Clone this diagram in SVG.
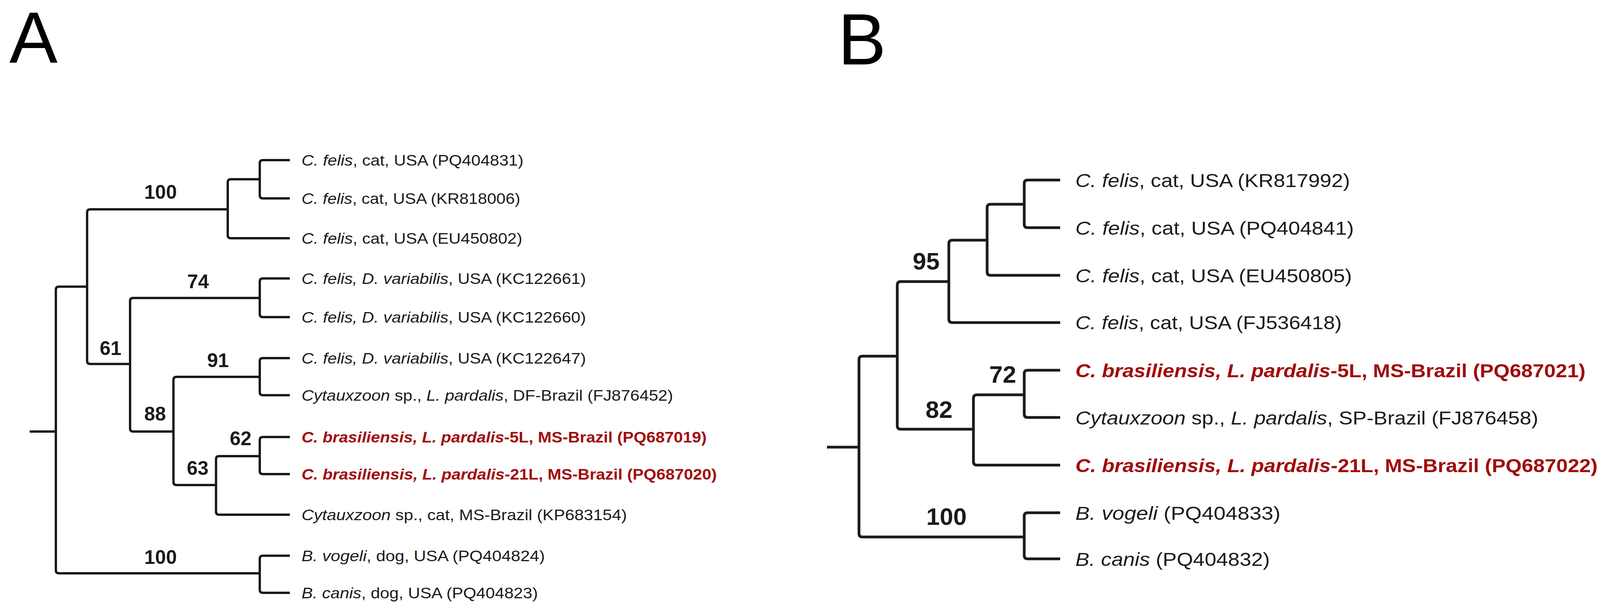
<svg xmlns="http://www.w3.org/2000/svg" width="4112" height="1562" viewBox="0 0 4112 1562">
<style>
.br{fill:none;stroke:#1a1a1a;stroke-width:6;stroke-linecap:butt;stroke-linejoin:round}
.brb{fill:none;stroke:#1a1a1a;stroke-width:7;stroke-linecap:butt;stroke-linejoin:round}
.bs{font-family:"Liberation Sans",Arial,sans-serif;fill:#1a1a1a;font-weight:bold}
.la{font-family:"Liberation Sans",Arial,sans-serif;font-size:38px;fill:#1a1a1a}
.lb{font-family:"Liberation Sans",Arial,sans-serif;font-size:48px;fill:#1a1a1a}
.red{fill:#a00d0d;font-weight:bold}
.i{font-style:italic}
.pl{font-family:"Liberation Sans",Arial,sans-serif;font-size:185px;fill:#000}
</style>
<rect width="4112" height="1562" fill="#fff"/>
<text class="pl" x="24" y="160">A</text>
<text class="pl" x="2145" y="165">B</text>
<g id="connectors">
<path class="br" d="M76,1105H143"/>
<path class="br" d="M223,734H151Q143,734 143,742V1460Q143,1468 151,1468H665"/>
<path class="br" d="M583,536H231Q223,536 223,544V924Q223,932 231,932H333"/>
<path class="br" d="M665,459H591Q583,459 583,467V602Q583,610 591,610H742"/>
<path class="br" d="M742,410H673Q665,410 665,418V500Q665,508 673,508H742"/>
<path class="br" d="M665,763H341Q333,763 333,771V1097Q333,1105 341,1105H444"/>
<path class="br" d="M742,713H673Q665,713 665,721V804Q665,812 673,812H742"/>
<path class="br" d="M665,965H452Q444,965 444,973V1234Q444,1242 452,1242H553"/>
<path class="br" d="M742,917H673Q665,917 665,925V1004Q665,1012 673,1012H742"/>
<path class="br" d="M665,1168H561Q553,1168 553,1176V1310Q553,1318 561,1318H742"/>
<path class="br" d="M742,1119H673Q665,1119 665,1127V1206Q665,1214 673,1214H742"/>
<path class="br" d="M742,1423H673Q665,1423 665,1431V1510Q665,1518 673,1518H742"/>
<path class="brb" d="M2117,1145H2199"/>
<path class="brb" d="M2297,912H2208Q2199,912 2199,921V1366Q2199,1375 2208,1375H2622"/>
<path class="brb" d="M2429,721H2306Q2297,721 2297,730V1090Q2297,1099 2306,1099H2492"/>
<path class="brb" d="M2527,615H2438Q2429,615 2429,624V817Q2429,826 2438,826H2714"/>
<path class="brb" d="M2622,523H2536Q2527,523 2527,532V696Q2527,705 2536,705H2714"/>
<path class="brb" d="M2714,461H2631Q2622,461 2622,470V574Q2622,583 2631,583H2714"/>
<path class="brb" d="M2622,1011H2501Q2492,1011 2492,1020V1182Q2492,1191 2501,1191H2714"/>
<path class="brb" d="M2714,948H2631Q2622,948 2622,957V1060Q2622,1069 2631,1069H2714"/>
<path class="brb" d="M2714,1313H2631Q2622,1313 2622,1322V1422Q2622,1431 2631,1431H2714"/>
</g>
<g id="support">
<g class="bs" font-size="50" text-anchor="middle">
<text x="411" y="509">100</text>
<text x="507" y="738">74</text>
<text x="283" y="909">61</text>
<text x="558" y="940">91</text>
<text x="397" y="1077">88</text>
<text x="616" y="1140">62</text>
<text x="506" y="1216">63</text>
<text x="411" y="1444">100</text>
</g>
<g class="bs" font-size="62" text-anchor="middle">
<text x="2371" y="690">95</text>
<text x="2567" y="980">72</text>
<text x="2404" y="1070">82</text>
<text x="2423" y="1344">100</text>
</g>
</g>
<g id="taxa-A">
<text id="a1" class="la" x="772" y="424" textLength="568" lengthAdjust="spacingAndGlyphs"><tspan class="i">C. felis</tspan>, cat, USA (PQ404831)</text>
<text id="a2" class="la" x="772" y="522" textLength="560" lengthAdjust="spacingAndGlyphs"><tspan class="i">C. felis</tspan>, cat, USA (KR818006)</text>
<text id="a3" class="la" x="772" y="624" textLength="565" lengthAdjust="spacingAndGlyphs"><tspan class="i">C. felis</tspan>, cat, USA (EU450802)</text>
<text id="a4" class="la" x="772" y="727" textLength="728" lengthAdjust="spacingAndGlyphs"><tspan class="i">C. felis, D. variabilis</tspan>, USA (KC122661)</text>
<text id="a5" class="la" x="772" y="826" textLength="728" lengthAdjust="spacingAndGlyphs"><tspan class="i">C. felis, D. variabilis</tspan>, USA (KC122660)</text>
<text id="a6" class="la" x="772" y="931" textLength="728" lengthAdjust="spacingAndGlyphs"><tspan class="i">C. felis, D. variabilis</tspan>, USA (KC122647)</text>
<text id="a7" class="la" x="772" y="1026" textLength="951" lengthAdjust="spacingAndGlyphs"><tspan class="i">Cytauxzoon</tspan> sp., <tspan class="i">L. pardalis</tspan>, DF-Brazil (FJ876452)</text>
<text id="a8" class="la red" x="772" y="1133" textLength="1037" lengthAdjust="spacingAndGlyphs"><tspan class="i">C. brasiliensis, L. pardalis</tspan>-5L, MS-Brazil (PQ687019)</text>
<text id="a9" class="la red" x="772" y="1228" textLength="1063" lengthAdjust="spacingAndGlyphs"><tspan class="i">C. brasiliensis, L. pardalis</tspan>-21L, MS-Brazil (PQ687020)</text>
<text id="a10" class="la" x="772" y="1332" textLength="833" lengthAdjust="spacingAndGlyphs"><tspan class="i">Cytauxzoon</tspan> sp., cat, MS-Brazil (KP683154)</text>
<text id="a11" class="la" x="772" y="1437" textLength="623" lengthAdjust="spacingAndGlyphs"><tspan class="i">B. vogeli</tspan>, dog, USA (PQ404824)</text>
<text id="a12" class="la" x="772" y="1532" textLength="605" lengthAdjust="spacingAndGlyphs"><tspan class="i">B. canis</tspan>, dog, USA (PQ404823)</text>
</g>
<g id="taxa-B">
<text id="b1" class="lb" x="2753" y="479" textLength="703" lengthAdjust="spacingAndGlyphs"><tspan class="i">C. felis</tspan>, cat, USA (KR817992)</text>
<text id="b2" class="lb" x="2753" y="601" textLength="713" lengthAdjust="spacingAndGlyphs"><tspan class="i">C. felis</tspan>, cat, USA (PQ404841)</text>
<text id="b3" class="lb" x="2753" y="723" textLength="708" lengthAdjust="spacingAndGlyphs"><tspan class="i">C. felis</tspan>, cat, USA (EU450805)</text>
<text id="b4" class="lb" x="2753" y="843" textLength="682" lengthAdjust="spacingAndGlyphs"><tspan class="i">C. felis</tspan>, cat, USA (FJ536418)</text>
<text id="b5" class="lb red" x="2753" y="966" textLength="1306" lengthAdjust="spacingAndGlyphs"><tspan class="i">C. brasiliensis, L. pardalis</tspan>-5L, MS-Brazil (PQ687021)</text>
<text id="b6" class="lb" x="2753" y="1087" textLength="1185" lengthAdjust="spacingAndGlyphs"><tspan class="i">Cytauxzoon</tspan> sp., <tspan class="i">L. pardalis</tspan>, SP-Brazil (FJ876458)</text>
<text id="b7" class="lb red" x="2753" y="1209" textLength="1337" lengthAdjust="spacingAndGlyphs"><tspan class="i">C. brasiliensis, L. pardalis</tspan>-21L, MS-Brazil (PQ687022)</text>
<text id="b8" class="lb" x="2753" y="1331" textLength="525" lengthAdjust="spacingAndGlyphs"><tspan class="i">B. vogeli</tspan> (PQ404833)</text>
<text id="b9" class="lb" x="2753" y="1449" textLength="498" lengthAdjust="spacingAndGlyphs"><tspan class="i">B. canis</tspan> (PQ404832)</text>
</g>
</svg>
